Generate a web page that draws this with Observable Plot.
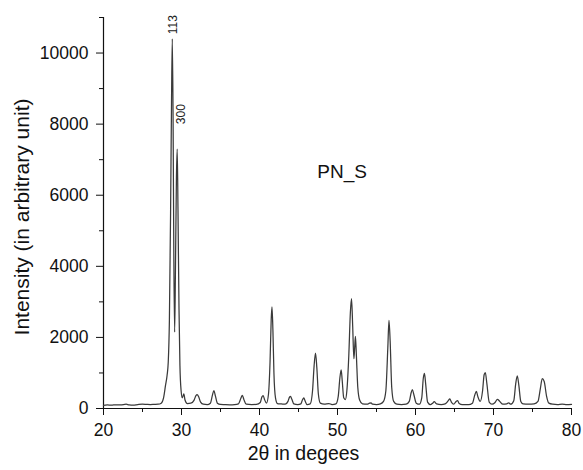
<!DOCTYPE html>
<html>
<head>
<meta charset="utf-8">
<script src="https://cdn.jsdelivr.net/npm/d3@7"></script>
<script src="https://cdn.jsdelivr.net/npm/@observablehq/plot@0.6"></script>
<style>
  body { margin: 0; background: #fff; }
  #chart { width: 583px; height: 470px; }
</style>
</head>
<body>
<div id="chart"></div>
<script>
// XRD pattern of PN_S (2θ in degrees, intensity in arbitrary units)
const twoTheta = [
  20.0, 20.5, 21.0, 21.6, 22.2, 22.9, 23.3, 23.8, 24.4, 25.0, 25.5, 26.0, 26.5, 27.0,
  27.4, 27.7, 27.95, 28.15, 28.3, 28.45, 28.6, 28.72, 28.82, 28.92, 29.02, 29.12,
  29.22, 29.35, 29.45, 29.55, 29.68, 29.8, 29.95, 30.1, 30.3, 30.45, 30.75, 31.2,
  31.6, 31.85, 32.0, 32.2, 32.45, 32.8, 33.3, 33.7, 33.95, 34.15, 34.35, 34.6,
  35.0, 35.5, 36.2, 36.8, 37.3, 37.6, 37.8, 38.0, 38.3, 39.0, 39.6, 40.1, 40.3,
  40.47, 40.65, 40.9, 41.15, 41.35, 41.5, 41.6, 41.72, 41.85, 42.05, 42.3, 42.8,
  43.3, 43.65, 43.85, 43.97, 44.15, 44.4, 44.9, 45.3, 45.5, 45.68, 45.85, 46.1,
  46.5, 46.8, 47.0, 47.18, 47.35, 47.55, 47.8, 48.3, 48.9, 49.3, 49.8, 50.1, 50.3,
  50.47, 50.6, 50.8, 51.0, 51.2, 51.45, 51.65, 51.8, 51.95, 52.1, 52.2, 52.3, 52.42,
  52.6, 52.85, 53.2, 53.8, 54.1, 54.3, 54.5, 55.0, 55.5, 55.9, 56.2, 56.45, 56.6,
  56.75, 56.95, 57.2, 57.6, 58.2, 58.8, 59.2, 59.45, 59.6, 59.8, 60.1, 60.5, 60.8,
  61.0, 61.15, 61.3, 61.55, 61.9, 62.2, 62.4, 62.7, 63.3, 63.8, 64.2, 64.4, 64.6,
  64.9, 65.2, 65.4, 65.6, 66.0, 66.8, 67.3, 67.6, 67.8, 68.0, 68.3, 68.6, 68.8,
  68.95, 69.15, 69.45, 69.8, 70.2, 70.5, 70.8, 71.2, 71.7, 71.95, 72.2, 72.6, 72.85,
  73.05, 73.25, 73.5, 73.8, 74.5, 75.2, 75.7, 76.0, 76.25, 76.5, 76.8, 77.1, 77.6,
  78.2, 78.8, 79.4, 80.0
];
const intensity = [
  90, 100, 95, 105, 100, 120, 100, 95, 110, 120, 115, 110, 115, 120,
  150, 300, 650, 930, 1300, 2500, 5500, 8600, 10400, 8200, 4200, 2150,
  3800, 6500, 7300, 5600, 2800, 1200, 500, 300, 410, 240, 140, 150,
  230, 360, 390, 330, 180, 120, 110, 150, 360, 505, 350, 150,
  115, 110, 105, 110, 130, 280, 370, 250, 120, 110, 115, 170, 320,
  365, 250, 150, 400, 1300, 2500, 2860, 2200, 1000, 300, 140, 130,
  120, 200, 320, 340, 260, 130, 110, 130, 240, 300, 210, 110,
  130, 500, 1200, 1560, 1150, 400, 150, 120, 140, 110, 130, 350, 850,
  1090, 800, 300, 250, 500, 1500, 2700, 3090, 2300, 1400, 1700, 2030, 1500,
  600, 230, 130, 120, 150, 160, 120, 110, 130, 200, 500, 1700, 2480,
  1900, 600, 200, 120, 110, 120, 200, 450, 530, 380, 150, 120, 300,
  850, 990, 700, 180, 110, 150, 190, 130, 110, 130, 220, 270, 180,
  120, 200, 220, 140, 110, 110, 150, 380, 480, 330, 200, 500, 950,
  1010, 700, 180, 120, 170, 260, 200, 120, 130, 160, 120, 220, 700,
  920, 650, 200, 130, 120, 130, 200, 550, 840, 760, 350, 150, 120,
  110, 120, 110, 115
];
const xMajorTicks = [20, 30, 40, 50, 60, 70, 80];
const xMinorTicks = [25, 35, 45, 55, 65, 75];
const yMajorTicks = [0, 2000, 4000, 6000, 8000, 10000];
const yMinorTicks = [1000, 3000, 5000, 7000, 9000, 11000];
const xTitle = ["2θ in degees"];
const yTitle = ["Intensity (in arbitrary unit)"];
const peakLabels = ["113", "300"];
const peakLabelX = [28.97, 30.0];
const peakLabelY = [10800, 8280];
const sampleName = ["PN_S"];

const data = twoTheta.map((x, i) => ({x, y: intensity[i]}));
const peaks = peakLabels.map((t, i) => ({t, x: peakLabelX[i], y: peakLabelY[i]}));

const chart = Plot.plot({
  width: 583,
  height: 470,
  marginLeft: 103,
  marginRight: 12,
  marginTop: 17,
  marginBottom: 62,
  style: {fontFamily: "Liberation Sans, Arial, sans-serif", background: "white", color: "#111"},
  x: {domain: [20, 80]},
  y: {domain: [0, 11000]},
  marks: [
    Plot.axisY(yMajorTicks, {tickSize: 7, tickPadding: 8, fontSize: 17.5, tickFormat: d3.format("d"), label: null}),
    Plot.axisY(yMinorTicks, {tickSize: 4, tickFormat: () => "", label: null}),
    Plot.axisX(xMajorTicks, {tickSize: 7, tickPadding: 8, fontSize: 17.5, tickFormat: d3.format("d"), label: null}),
    Plot.axisX(xMinorTicks, {tickSize: 4, tickFormat: () => "", label: null}),
    Plot.ruleX([20], {stroke: "#111", strokeWidth: 1.2}),
    Plot.ruleY([0], {stroke: "#111", strokeWidth: 1.2}),
    Plot.line(data, {x: "x", y: "y", stroke: "#3a3a3a", strokeWidth: 1.25, curve: "monotone-x"}),
    Plot.text(xTitle, {frameAnchor: "bottom", textAnchor: "middle", dx: -34, dy: 51, text: d => d, fontSize: 19.5, fill: "#111"}),
    Plot.text(yTitle, {frameAnchor: "left", textAnchor: "middle", dx: -81, dy: 4, rotate: -90, text: d => d, fontSize: 21, fill: "#111"}),
    Plot.text(peaks, {x: "x", y: "y", text: "t", rotate: -90, fontSize: 12, fill: "#222"}),
    Plot.text(sampleName, {x: () => 50.6, y: () => 6650, text: d => d, fontSize: 19, fill: "#111"})
  ]
});
document.getElementById("chart").appendChild(chart);
</script>
</body>
</html>
